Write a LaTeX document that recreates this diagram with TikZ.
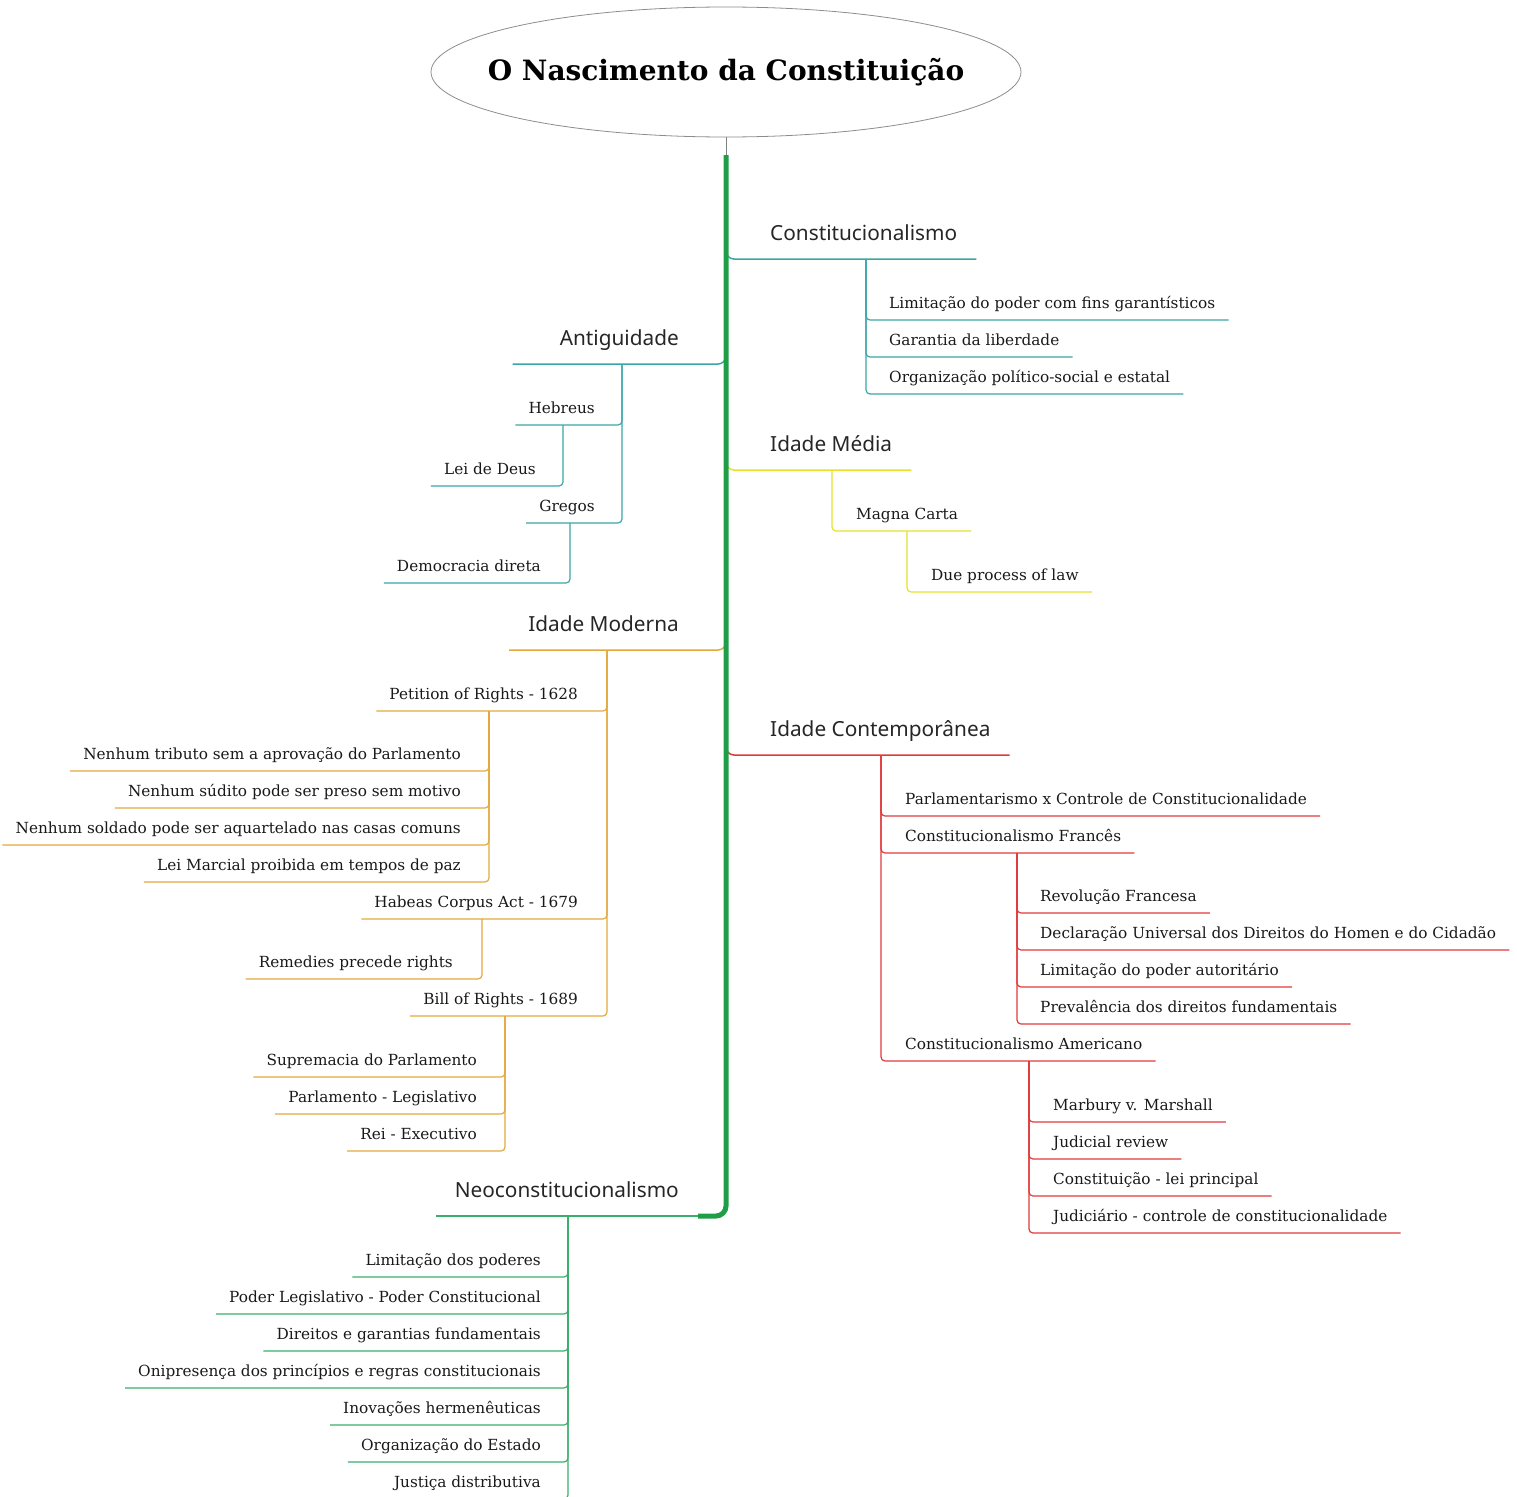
\documentclass[tikz,border=0pt]{standalone}
\usepackage{fontspec}
\setmainfont{DejaVu Serif}
\newfontfamily\topicface{Noto Sans}
\usepackage{tikz}
\usetikzlibrary{shapes.geometric}

\definecolor{tealc}{HTML}{3AA6A8}
\definecolor{yellowc}{HTML}{E6E12E}
\definecolor{orangec}{HTML}{E3A83C}
\definecolor{redc}{HTML}{E0393B}
\definecolor{trunkc}{HTML}{1F9E48}
\definecolor{neoc}{HTML}{3AAE6B}

\newcommand\titlefnt{\fontsize{28}{32}\selectfont\bfseries}
\newcommand\topicfnt{\topicface\fontsize{20.8}{25}\selectfont}
\newcommand\itemfnt{\fontsize{15.3}{18}\selectfont}

\tikzset{
  rootnode/.style={ellipse,draw=black!45,line width=0.8,inner xsep=-40,inner ysep=0,minimum width=590,minimum height=130,font=\titlefnt},
  topicnode/.style={font=\topicfnt,text=black!85,inner xsep=19,inner ysep=13,text height=15,text depth=5},
  leafnode/.style={font=\itemfnt,text=black!90,inner xsep=13,inner ysep=7,text height=12,text depth=4},
  topicline/.style={line width=1.5,rounded corners=8},
  leafline/.style={line width=1.2,rounded corners=4},
}

\begin{document}
\begin{tikzpicture}[x=1pt,y=-1pt]
%\draw[help lines] (0,0) grid[step=100] (1517,1496);
\useasboundingbox (0,0) rectangle (1517,1496);
\path
(726,72) node(root) [rootnode] {O Nascimento da Constituição}
(751,259) node(cons) [topicnode,anchor=south west] {Constitucionalismo}
(726,364) node(anti) [topicnode,anchor=south east,inner xsep=47] {Antiguidade}
(751,470) node(media) [topicnode,anchor=south west] {Idade Média}
(698,650) node(moderna) [topicnode,anchor=south east] {Idade Moderna}
(751,755) node(contemp) [topicnode,anchor=south west] {Idade Contemporânea}
(698,1216) node(neo) [topicnode,anchor=south east] {Neoconstitucionalismo};
% Constitucionalismo
\path
(876,320) node(lim) [leafnode,anchor=south west] {Limitação do poder com fins garantísticos}
(876,357) node(gar) [leafnode,anchor=south west] {Garantia da liberdade}
(876,394) node(org) [leafnode,anchor=south west] {Organização político-social e estatal};
% Antiguidade
\path
(608,425) node(heb) [leafnode,anchor=south east] {Hebreus}
(549,486) node(lei) [leafnode,anchor=south east] {Lei de Deus}
(608,523) node(greg) [leafnode,anchor=south east] {Gregos}
(554,583) node(demo) [leafnode,anchor=south east] {Democracia direta};
% Idade Media
\path
(843,531) node(magna) [leafnode,anchor=south west] {Magna Carta}
(918,592) node(due) [leafnode,anchor=south west] {Due process of law};
% Idade Moderna
\path
(591,711) node(pet) [leafnode,anchor=south east] {Petition of Rights - 1628}
(474,771) node(trib) [leafnode,anchor=south east] {Nenhum tributo sem a aprovação do Parlamento}
(474,808) node(sud) [leafnode,anchor=south east] {Nenhum súdito pode ser preso sem motivo}
(474,845) node(sold) [leafnode,anchor=south east] {Nenhum soldado pode ser aquartelado nas casas comuns}
(474,882) node(marc) [leafnode,anchor=south east] {Lei Marcial proibida em tempos de paz}
(591,919) node(hab) [leafnode,anchor=south east] {Habeas Corpus Act - 1679}
(466,979) node(rem) [leafnode,anchor=south east] {Remedies precede rights}
(591,1016) node(bill) [leafnode,anchor=south east] {Bill of Rights - 1689}
(490,1077) node(sup) [leafnode,anchor=south east] {Supremacia do Parlamento}
(490,1114) node(parl) [leafnode,anchor=south east] {Parlamento - Legislativo}
(490,1151) node(rei) [leafnode,anchor=south east] {Rei - Executivo};
% Idade Contemporanea
\path
(892,816) node(pxc) [leafnode,anchor=south west] {Parlamentarismo x Controle de Constitucionalidade}
(892,853) node(fra) [leafnode,anchor=south west] {Constitucionalismo Francês}
(1027,913) node(rev) [leafnode,anchor=south west] {Revolução Francesa}
(1027,950) node(decl) [leafnode,anchor=south west] {Declaração Universal dos Direitos do Homen e do Cidadão}
(1027,987) node(aut) [leafnode,anchor=south west] {Limitação do poder autoritário}
(1027,1024) node(prev) [leafnode,anchor=south west] {Prevalência dos direitos fundamentais}
(892,1061) node(ame) [leafnode,anchor=south west] {Constitucionalismo Americano}
(1040,1122) node(marb) [leafnode,anchor=south west] {Marbury v. Marshall}
(1040,1159) node(jrev) [leafnode,anchor=south west] {Judicial review}
(1040,1196) node(clp) [leafnode,anchor=south west] {Constituição - lei principal}
(1040,1233) node(jcc) [leafnode,anchor=south west] {Judiciário - controle de constitucionalidade};
% Neoconstitucionalismo
\path
(554,1277) node(lpod) [leafnode,anchor=south east] {Limitação dos poderes}
(554,1314) node(plpc) [leafnode,anchor=south east] {Poder Legislativo - Poder Constitucional}
(554,1351) node(dgf) [leafnode,anchor=south east] {Direitos e garantias fundamentais}
(554,1388) node(onip) [leafnode,anchor=south east] {Onipresença dos princípios e regras constitucionais}
(554,1425) node(inov) [leafnode,anchor=south east] {Inovações hermenêuticas}
(554,1462) node(oest) [leafnode,anchor=south east] {Organização do Estado}
(554,1499) node(just) [leafnode,anchor=south east] {Justiça distributiva};
% branch points
\path (726,155) coordinate(trunk)
(866,259) coordinate(consv) (622,364) coordinate(antiv)
(563,425) coordinate(hebv) (570,523) coordinate(gregv)
(832,470) coordinate(mediav) (907,531) coordinate(magnav)
(607,650) coordinate(modv) (489,711) coordinate(petv)
(482,919) coordinate(habv) (505,1016) coordinate(billv)
(881,755) coordinate(contv) (1017,853) coordinate(frav)
(1029,1061) coordinate(amev) (568,1216) coordinate(neov);

\draw[topicline,tealc] ([yshift=10]cons.south -| trunk) |- (cons.south east);
\draw[topicline,tealc] ([yshift=10]anti.south -| trunk) |- (anti.south west);
\draw[topicline,yellowc] ([yshift=10]media.south -| trunk) |- (media.south east);
\draw[topicline,orangec] ([yshift=10]moderna.south -| trunk) |- (moderna.south west);
\draw[topicline,redc] ([yshift=10]contemp.south -| trunk) |- (contemp.south east);
\draw[topicline,neoc] (neo.south east) -- (neo.south west);
\draw[black!50,line width=1] (root.south) -- (trunk);
\draw[trunkc,line width=5,rounded corners=10] (trunk) |- (neo.south east);

\draw[leafline,tealc] (consv) |- (lim.south east);
\draw[leafline,tealc] (consv) |- (gar.south east);
\draw[leafline,tealc] (consv) |- (org.south east);
\draw[leafline,tealc] (antiv) |- (heb.south west);
\draw[leafline,tealc] (antiv) |- (greg.south west);
\draw[leafline,tealc] (hebv) |- (lei.south west);
\draw[leafline,tealc] (gregv) |- (demo.south west);

\draw[leafline,yellowc] (mediav) |- (magna.south east);
\draw[leafline,yellowc] (magnav) |- (due.south east);

\draw[leafline,orangec] (modv) |- (pet.south west);
\draw[leafline,orangec] (modv) |- (hab.south west);
\draw[leafline,orangec] (modv) |- (bill.south west);
\draw[leafline,orangec] (petv) |- (trib.south west);
\draw[leafline,orangec] (petv) |- (sud.south west);
\draw[leafline,orangec] (petv) |- (sold.south west);
\draw[leafline,orangec] (petv) |- (marc.south west);
\draw[leafline,orangec] (habv) |- (rem.south west);
\draw[leafline,orangec] (billv) |- (sup.south west);
\draw[leafline,orangec] (billv) |- (parl.south west);
\draw[leafline,orangec] (billv) |- (rei.south west);

\draw[leafline,redc] (contv) |- (pxc.south east);
\draw[leafline,redc] (contv) |- (fra.south east);
\draw[leafline,redc] (contv) |- (ame.south east);
\draw[leafline,redc] (frav) |- (rev.south east);
\draw[leafline,redc] (frav) |- (decl.south east);
\draw[leafline,redc] (frav) |- (aut.south east);
\draw[leafline,redc] (frav) |- (prev.south east);
\draw[leafline,redc] (amev) |- (marb.south east);
\draw[leafline,redc] (amev) |- (jrev.south east);
\draw[leafline,redc] (amev) |- (clp.south east);
\draw[leafline,redc] (amev) |- (jcc.south east);

\draw[leafline,neoc] (neov) |- (lpod.south west);
\draw[leafline,neoc] (neov) |- (plpc.south west);
\draw[leafline,neoc] (neov) |- (dgf.south west);
\draw[leafline,neoc] (neov) |- (onip.south west);
\draw[leafline,neoc] (neov) |- (inov.south west);
\draw[leafline,neoc] (neov) |- (oest.south west);
\draw[leafline,neoc] (neov) |- (just.south west);
\end{tikzpicture}
\end{document}
